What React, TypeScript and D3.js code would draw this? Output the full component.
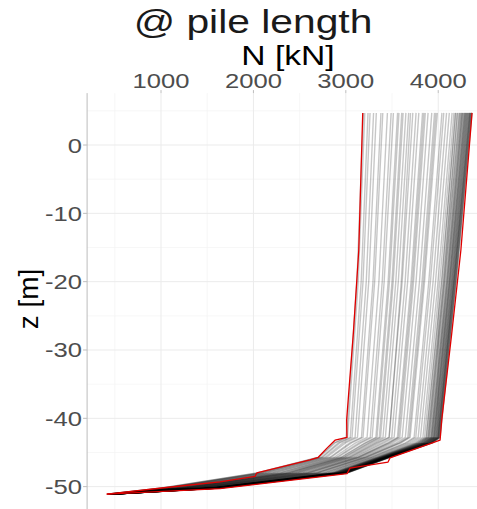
import * as d3 from "d3";

// depth stations (m) shared by every simulated pile run
const depths = [4.7, -20, -42.8, -43.6, -45.7, -48, -50.2, -51.1];

// axial force N [kN] of each run at the depth stations above
const runs: number[][] = [
  [3190, 3120, 3005, 2870, 2702, 2036, 1008, 415],
  [3205, 3134, 3018, 2884, 2712, 2049, 1016, 416],
  [3240, 3166, 3048, 2916, 2736, 2078, 1035, 418],
  [3262, 3186, 3067, 2935, 2749, 2096, 1046, 420],
  [3300, 3221, 3100, 2970, 2775, 2128, 1067, 422],
  [3330, 3248, 3126, 2997, 2794, 2152, 1083, 425],
  [3380, 3294, 3169, 3043, 2828, 2194, 1110, 428],
  [3400, 3312, 3186, 3062, 2841, 2211, 1121, 429],
  [3450, 3358, 3230, 3106, 2873, 2252, 1147, 433],
  [3490, 3394, 3264, 3143, 2900, 2285, 1169, 435],
  [3515, 3415, 3285, 3165, 2915, 2300, 1180, 437],
  [3560, 3458, 3325, 3207, 2946, 2344, 1206, 440],
  [3575, 3472, 3338, 3220, 2956, 2355, 1214, 441],
  [3605, 3500, 3362, 3248, 2976, 2380, 1230, 443],
  [3620, 3513, 3376, 3262, 2986, 2394, 1239, 444],
  [3650, 3541, 3402, 3288, 3005, 2418, 1254, 446],
  [3680, 3568, 3428, 3316, 3026, 2443, 1271, 448],
  [3700, 3600, 3470, 3334, 3039, 2460, 1281, 450],
  [3725, 3610, 3467, 3357, 3055, 2481, 1295, 451],
  [3760, 3642, 3497, 3389, 3078, 2510, 1314, 454],
  [3790, 3669, 3523, 3416, 3098, 2534, 1329, 456],
  [3830, 3706, 3558, 3452, 3124, 2567, 1351, 459],
  [3845, 3720, 3570, 3466, 3134, 2580, 1360, 460],
  [3860, 3733, 3584, 3480, 3144, 2593, 1367, 461],
  [3890, 3760, 3610, 3507, 3164, 2617, 1383, 463],
  [3930, 3797, 3644, 3543, 3190, 2651, 1404, 465],
  [3960, 3825, 3670, 3571, 3210, 2676, 1421, 467],
  [3975, 3840, 3684, 3585, 3220, 2688, 1429, 468],
  [3990, 3852, 3696, 3598, 3230, 2700, 1436, 469],
  [4040, 3898, 3739, 3644, 3263, 2742, 1463, 473],
  [4060, 3916, 3757, 3662, 3276, 2759, 1474, 474],
  [4090, 3944, 3783, 3689, 3296, 2783, 1490, 476],
  [4120, 3971, 3808, 3716, 3316, 2809, 1506, 478],
  [4150, 3998, 3834, 3743, 3335, 2833, 1522, 480],
  [4170, 4017, 3852, 3761, 3348, 2850, 1533, 482],
  [4185, 4040, 3872, 3778, 3358, 2871, 1548, 484],
  [4190, 4035, 3869, 3780, 3362, 2866, 1544, 483],
  [4205, 4060, 3890, 3801, 3380, 2880, 1556, 485],
  [4210, 4053, 3886, 3798, 3375, 2883, 1554, 484],
  [4225, 4067, 3899, 3812, 3385, 2896, 1562, 485],
  [4232, 4070, 3902, 3818, 3390, 2900, 1566, 486],
  [4240, 4081, 3912, 3826, 3395, 2908, 1571, 486],
  [4248, 4090, 3920, 3836, 3402, 2915, 1576, 487],
  [4255, 4094, 3925, 3839, 3405, 2921, 1579, 487],
  [4260, 4100, 3930, 3844, 3408, 2925, 1582, 488],
  [4265, 4104, 3934, 3848, 3411, 2929, 1584, 488],
  [4272, 4112, 3940, 3856, 3418, 2936, 1588, 489],
  [4280, 4117, 3947, 3862, 3421, 2942, 1592, 489],
  [4285, 4122, 3951, 3866, 3425, 2946, 1594, 489],
  [4290, 4126, 3955, 3870, 3428, 2950, 1597, 490],
  [4295, 4128, 3958, 3875, 3432, 2955, 1600, 490],
  [4300, 4136, 3964, 3880, 3435, 2958, 1603, 491],
  [4305, 4140, 3968, 3884, 3438, 2962, 1605, 491],
  [4310, 4145, 3973, 3889, 3441, 2966, 1608, 491],
  [4315, 4150, 3978, 3894, 3445, 2970, 1611, 492],
  [4320, 4154, 3981, 3898, 3448, 2975, 1613, 492],
  [4325, 4158, 3986, 3902, 3451, 2979, 1616, 492],
  [4330, 4163, 3990, 3907, 3454, 2983, 1618, 493],
  [4335, 4168, 3995, 3912, 3458, 2988, 1621, 493],
  [4340, 4172, 3998, 3916, 3461, 2992, 1624, 493],
  [4344, 4170, 4000, 3918, 3462, 2994, 1625, 493],
  [4345, 4176, 4002, 3920, 3464, 2996, 1626, 494],
  [4350, 4181, 4007, 3925, 3467, 3000, 1629, 494],
  [4355, 4185, 4010, 3928, 3470, 3003, 1632, 494],
  [4358, 4188, 4014, 3932, 3472, 3006, 1634, 494],
  [4362, 4192, 4018, 3936, 3475, 3010, 1636, 495],
  [4366, 4196, 4021, 3940, 3478, 3013, 1638, 495],
];

// red envelope: lowest force along depth
const minZ = [4.7, -15.4, -27.6, -40.2, -42.8, -43.2, -44.4, -45.7, -46.1, -48.0, -48.5, -49.3, -50.2, -51.1];
const minN = [3183, 3140, 3081, 3009, 3012, 2883, 2793, 2702, 2612, 2036, 2017, 1638, 1008, 412];

// red envelope: highest force along depth
const maxZ = [4.7, -15.4, -27.6, -40.2, -43.2, -45.8, -46.4, -47.3, -48.1, -50.3, -51.1];
const maxN = [4366, 4245, 4146, 4038, 4020, 3478, 3457, 3045, 3013, 1638, 412];

const xTicks = [1000, 2000, 3000, 4000];
const xMinor = [500, 1500, 2500, 3500, 4500];
const yTicks = [0, -10, -20, -30, -40, -50];
const yMinor = [5, -5, -15, -25, -35, -45];

const W = 477;
const H = 509;
const font = "'Liberation Sans', Arial, sans-serif";

export default function App() {
  const x = d3.scaleLinear().domain([200, 4570]).range([87.1, 490.9]);
  const y = d3.scaleLinear().domain([7.6, -53.8]).range([93.1, 512.6]);
  const left = x.range()[0];
  const top = y.range()[0];

  const line = d3
    .line<[number, number]>()
    .x((d) => x(d[0]))
    .y((d) => y(d[1]));

  const envMin = minN.map((n, i) => [n, minZ[i]] as [number, number]);
  const envMax = maxN.map((n, i) => [n, maxZ[i]] as [number, number]);

  return (
    <>
      <style>{`body{margin:0}`}</style>
      <svg width={W} height={H} style={{ display: "block", fontFamily: font }}>
        <rect width={W} height={H} fill="#fff" />

        {xMinor.map((t) => (
          <line key={`xm${t}`} x1={x(t)} x2={x(t)} y1={top} y2={H} stroke="#f3f3f3" strokeWidth={0.7} />
        ))}
        {yMinor.map((t) => (
          <line key={`ym${t}`} x1={left} x2={W} y1={y(t)} y2={y(t)} stroke="#f3f3f3" strokeWidth={0.7} />
        ))}
        {xTicks.map((t) => (
          <line key={`xg${t}`} x1={x(t)} x2={x(t)} y1={top} y2={H} stroke="#ebebeb" strokeWidth={1} />
        ))}
        {yTicks.map((t) => (
          <line key={`yg${t}`} x1={left} x2={W} y1={y(t)} y2={y(t)} stroke="#ebebeb" strokeWidth={1} />
        ))}

        <g fill="none" stroke="#000" strokeOpacity={0.22} strokeWidth={1.4} strokeLinejoin="round">
          {runs.map((r, i) => (
            <path key={i} d={line(r.map((n, j) => [n, depths[j]] as [number, number])) ?? ""} />
          ))}
        </g>

        <g fill="none" stroke="#e00000" strokeWidth={1.3} strokeLinejoin="round">
          <path d={line(envMin) ?? ""} />
          <path d={line(envMax) ?? ""} />
        </g>

        <line x1={left} x2={left} y1={top} y2={H} stroke="#bdbdbd" strokeWidth={1} />
        {yTicks.map((t) => (
          <line key={`yt${t}`} x1={left - 4} x2={left} y1={y(t)} y2={y(t)} stroke="#bdbdbd" />
        ))}
        {xTicks.map((t) => (
          <line key={`xt${t}`} x1={x(t)} x2={x(t)} y1={top - 3} y2={top} stroke="#bdbdbd" />
        ))}

        {xTicks.map((t) => (
          <g key={`xl${t}`} transform={`translate(${x(t)},88) scale(1.22,1)`}>
            <text textAnchor="middle" fontSize={21} fill="#4d4d4d">
              {t}
            </text>
          </g>
        ))}
        {yTicks.map((t) => (
          <g key={`yl${t}`} transform={`translate(82,${y(t) + 7.5}) scale(1.22,1)`}>
            <text textAnchor="end" fontSize={21} fill="#4d4d4d">
              {t}
            </text>
          </g>
        ))}

        <g transform="translate(253,33) scale(1.2,1)">
          <text textAnchor="middle" fontSize={34} fill="#1a1a1a">
            @ pile length
          </text>
        </g>
        <g transform="translate(288,65) scale(1.2,1)">
          <text textAnchor="middle" fontSize={28} fill="#000">
            N [kN]
          </text>
        </g>
        <g transform="translate(37.5,299) rotate(-90)">
          <text textAnchor="middle" fontSize={28} fill="#000">
            z [m]
          </text>
        </g>
      </svg>
    </>
  );
}
